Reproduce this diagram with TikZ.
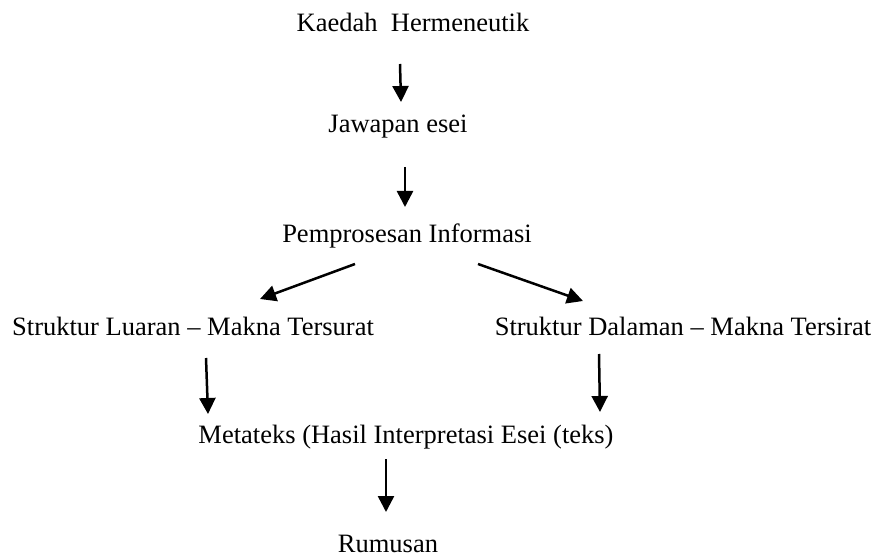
\documentclass[tikz,border=0pt]{standalone}
\usepackage{fontspec}
\setmainfont{Liberation Serif}
\usetikzlibrary{arrows.meta}
\begin{document}
\begin{tikzpicture}[x=1pt,y=-1pt,
  lbl/.style={inner sep=0pt,anchor=base,font=\fontsize{26.5}{30}\selectfont},
  arr/.style={line width=2.5pt,-{Triangle[length=16pt,width=16pt]}}]
\useasboundingbox (0,0) rectangle (878,556);
\node[lbl] (kh) at (413,32) {Kaedah\ \ Hermeneutik};
\node[lbl] (je) at (398,133) {Jawapan esei};
\node[lbl] (pi) at (407,242) {Pemprosesan Informasi};
\node[lbl] (sl) at (193,335) {Struktur Luaran -- Makna Tersurat};
\node[lbl] (sd) at (683,335) {Struktur Dalaman -- Makna Tersirat};
\node[lbl] (mt) at (406,443) {Metateks (Hasil Interpretasi Esei (teks)};
\node[lbl] (ru) at (388,552) {Rumusan};
\coordinate (a1s) at (400,64); \coordinate (a1e) at (401,102);
\coordinate (a2s) at (405,167); \coordinate (a2e) at (405,207);
\coordinate (a3s) at (355,264); \coordinate (a3e) at (260,299);
\coordinate (a4s) at (478,264); \coordinate (a4e) at (583,301);
\coordinate (a5s) at (206,358); \coordinate (a5e) at (208,414);
\coordinate (a6s) at (599,354); \coordinate (a6e) at (600,412);
\coordinate (a7s) at (386,459); \coordinate (a7e) at (386,512);
\draw[arr] (a1s) -- (a1e);
\draw[arr] (a2s) -- (a2e);
\draw[arr] (a3s) -- (a3e);
\draw[arr] (a4s) -- (a4e);
\draw[arr] (a5s) -- (a5e);
\draw[arr] (a6s) -- (a6e);
\draw[arr] (a7s) -- (a7e);
\end{tikzpicture}
\end{document}
